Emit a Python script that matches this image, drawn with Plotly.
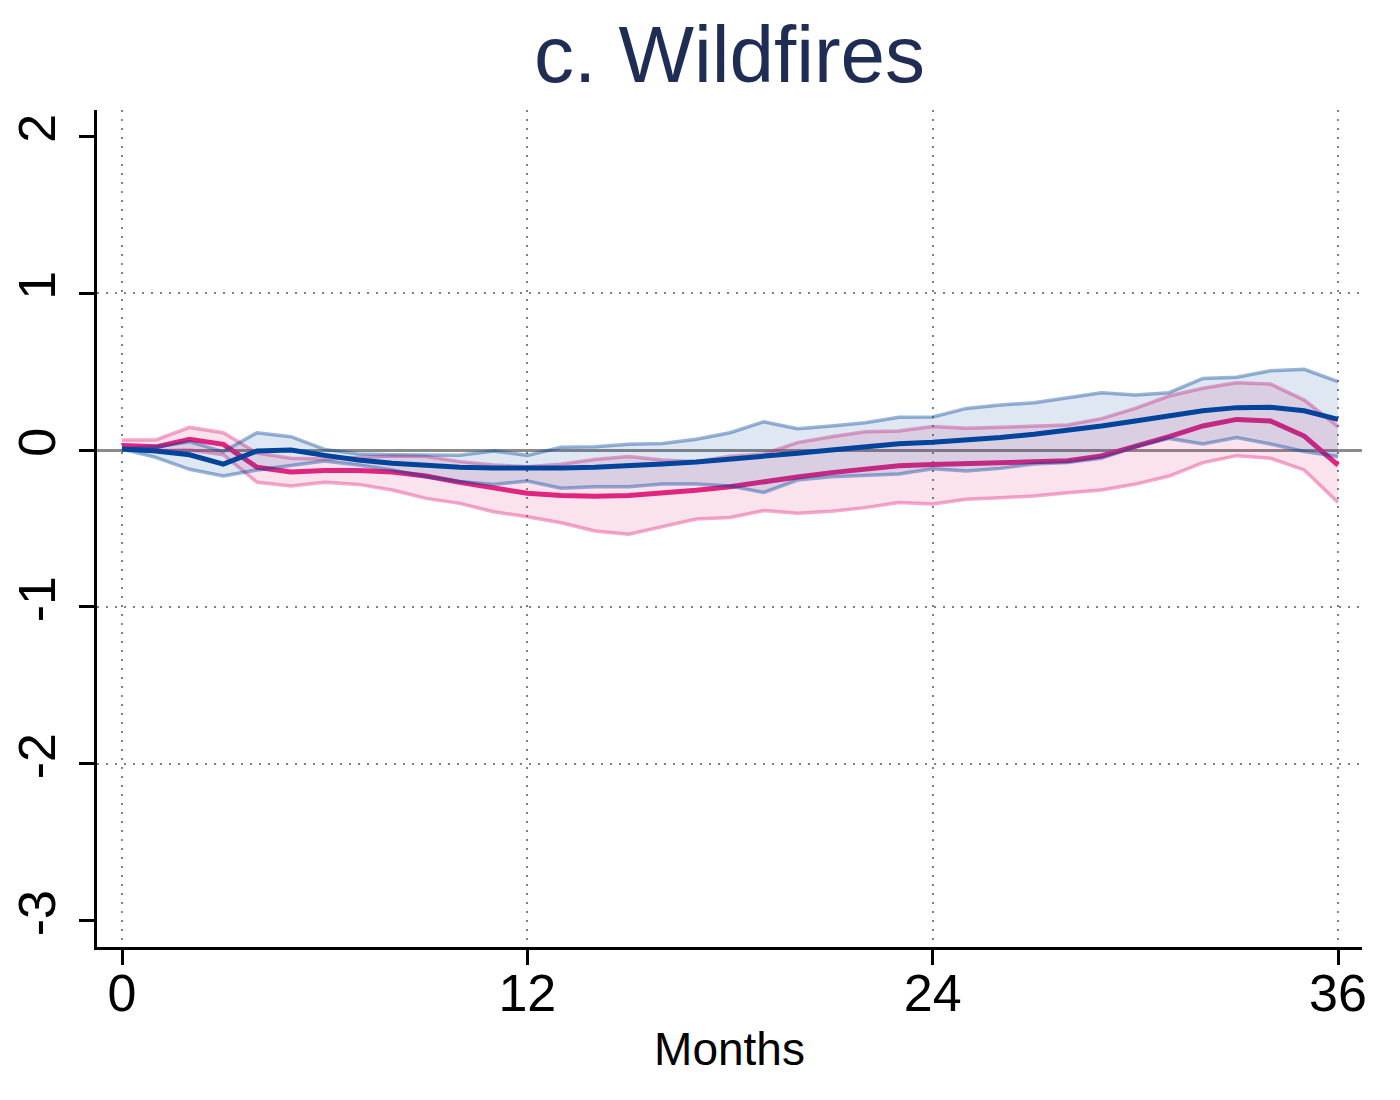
import plotly.graph_objects as go

# months after event
months = list(range(0, 37))

# pink series: estimate, upper and lower bound
pink_mid = [0.028, 0.02, 0.068, 0.036, -0.11, -0.14, -0.13, -0.13, -0.14, -0.166,
            -0.206, -0.244, -0.276, -0.29, -0.295, -0.289, -0.276, -0.257, -0.234, -0.2,
            -0.172, -0.144, -0.121, -0.1, -0.093, -0.085, -0.08, -0.076, -0.068, -0.038,
            0.02, 0.085, 0.153, 0.195, 0.185, 0.089, -0.096]
pink_hi = [0.064, 0.064, 0.144, 0.11, -0.02, -0.053, -0.057, -0.047, -0.038, -0.042,
           -0.074, -0.096, -0.106, -0.09, -0.06, -0.042, -0.064, -0.074, -0.04, -0.025,
           0.047, 0.085, 0.117, 0.121, 0.15, 0.138, 0.144, 0.153, 0.159, 0.2,
           0.265, 0.344, 0.393, 0.429, 0.42, 0.318, 0.149]
pink_lo = [0.01, -0.005, 0.0, -0.03, -0.206, -0.229, -0.206, -0.219, -0.255, -0.308,
           -0.34, -0.393, -0.425, -0.463, -0.516, -0.537, -0.488, -0.44, -0.43, -0.386,
           -0.403, -0.39, -0.367, -0.335, -0.344, -0.314, -0.304, -0.293, -0.272, -0.255,
           -0.217, -0.166, -0.08, -0.036, -0.053, -0.127, -0.335]

# blue series: estimate, upper and lower bound
blue_mid = [0.006, -0.006, -0.03, -0.09, -0.006, 0.0, -0.034, -0.064, -0.085, -0.1,
            -0.11, -0.115, -0.117, -0.115, -0.11, -0.102, -0.089, -0.076, -0.06, -0.038,
            -0.021, 0.0, 0.021, 0.04, 0.05, 0.064, 0.08, 0.1, 0.123, 0.153,
            0.185, 0.217, 0.25, 0.27, 0.272, 0.25, 0.195]
blue_hi = [0.006, 0.02, 0.053, -0.01, 0.11, 0.085, 0.004, -0.025, -0.03, -0.03,
           -0.034, -0.006, -0.034, 0.017, 0.021, 0.036, 0.042, 0.068, 0.11, 0.18,
           0.136, 0.153, 0.174, 0.208, 0.21, 0.265, 0.287, 0.301, 0.335, 0.365,
           0.35, 0.365, 0.456, 0.463, 0.505, 0.514, 0.435]
blue_lo = [0.006, -0.047, -0.123, -0.166, -0.127, -0.096, -0.07, -0.096, -0.127, -0.17,
           -0.2, -0.22, -0.197, -0.244, -0.234, -0.234, -0.217, -0.217, -0.229, -0.27,
           -0.191, -0.17, -0.159, -0.153, -0.12, -0.134, -0.117, -0.089, -0.08, -0.053,
           0.02, 0.074, 0.038, 0.08, 0.038, -0.01, -0.042]

x_ticks = [0, 12, 24, 36]
y_ticks = [-3, -2, -1, 0, 1, 2]
y_grid = [-2, -1, 1]

PINK = "rgb(224,37,127)"
BLUE = "rgb(0,68,155)"

fig = go.Figure()

# pink band, then pink line
fig.add_trace(go.Scatter(x=months, y=pink_lo, mode="lines",
                         line=dict(color="rgba(224,37,127,0.4)", width=3.5),
                         showlegend=False, hoverinfo="skip"))
fig.add_trace(go.Scatter(x=months, y=pink_hi, mode="lines", fill="tonexty",
                         fillcolor="rgba(224,37,127,0.13)",
                         line=dict(color="rgba(224,37,127,0.4)", width=3.5),
                         showlegend=False, hoverinfo="skip"))
fig.add_trace(go.Scatter(x=months, y=pink_mid, mode="lines",
                         line=dict(color=PINK, width=5), showlegend=False))

# blue band over it, then blue line
fig.add_trace(go.Scatter(x=months, y=blue_lo, mode="lines",
                         line=dict(color="rgba(0,68,155,0.4)", width=3.5),
                         showlegend=False, hoverinfo="skip"))
fig.add_trace(go.Scatter(x=months, y=blue_hi, mode="lines", fill="tonexty",
                         fillcolor="rgba(0,68,155,0.13)",
                         line=dict(color="rgba(0,68,155,0.4)", width=3.5),
                         showlegend=False, hoverinfo="skip"))
fig.add_trace(go.Scatter(x=months, y=blue_mid, mode="lines",
                         line=dict(color=BLUE, width=5), showlegend=False))

# invisible overlay axis just for the horizontal dotted grid
fig.add_trace(go.Scatter(x=[None], y=[None], yaxis="y2", showlegend=False))

yr = [-3.166, 2.166]

fig.update_layout(
    width=1400, height=1100,
    paper_bgcolor="white", plot_bgcolor="white",
    margin=dict(l=89, r=46, t=102, b=161, autoexpand=False),
    font=dict(family="Arial, Liberation Sans, sans-serif", color="black"),
    title=dict(text="c. Wildfires", x=0.5, xref="paper", xanchor="center",
               y=0.958, yanchor="middle",
               font=dict(size=80, color="#1f2d54")),
    xaxis=dict(range=[-0.74, 36.71], tickvals=x_ticks, ticktext=[str(v) for v in x_ticks],
               automargin=False,
               showgrid=True, gridcolor="#808080", gridwidth=1.5, griddash="2px,7px",
               zeroline=False, showline=True, linecolor="black", linewidth=2.5,
               ticks="outside", ticklen=15, tickwidth=2.5, tickcolor="black",
               tickfont=dict(size=52), ticklabelstandoff=-16,
               title=dict(text="Months", font=dict(size=46), standoff=12)),
    yaxis=dict(range=yr, tickvals=y_ticks, ticktext=[str(v) for v in y_ticks],
               automargin=False,
               showgrid=False, zeroline=True, zerolinecolor="#8a8a8a", zerolinewidth=3,
               showline=True, linecolor="black", linewidth=2.5,
               ticks="outside", ticklen=15, tickwidth=2.5, tickcolor="black",
               tickangle=-90, tickfont=dict(size=52), ticklabelstandoff=3),
    yaxis2=dict(range=yr, overlaying="y", tickvals=y_grid, showticklabels=False,
                automargin=False,
                ticks="", showgrid=True, gridcolor="#808080", gridwidth=1.5,
                griddash="2px,7px", zeroline=False, showline=False),
)

fig.write_html("out.html")
